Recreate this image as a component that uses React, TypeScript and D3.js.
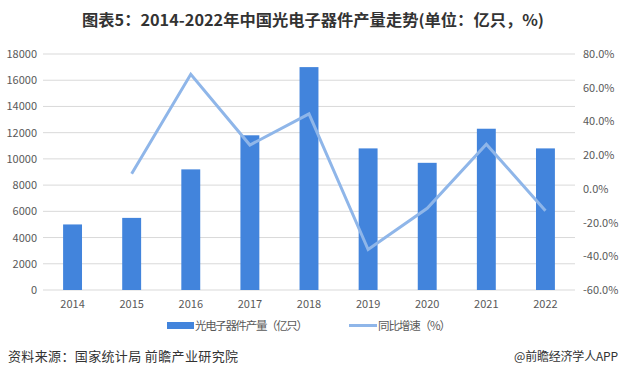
import React, { useEffect, useRef } from 'react';
import * as d3 from 'd3';

const years = ['2014', '2015', '2016', '2017', '2018', '2019', '2020', '2021', '2022'];
const output = [5000, 5500, 9200, 11800, 17000, 10800, 9700, 12300, 10800];
const growth: (number | null)[] = [null, 9.0, 68.0, 26.0, 44.5, -36.0, -11.5, 26.5, -13.0];
const leftTicks = [0, 2000, 4000, 6000, 8000, 10000, 12000, 14000, 16000, 18000];
const rightTicks = [-60, -40, -20, 0, 20, 40, 60, 80];

const FONT = '"Noto Sans CJK SC", "Noto Sans", sans-serif';

export default function App() {
  const ref = useRef<SVGSVGElement>(null);

  useEffect(() => {
    if (!ref.current) return;
    const svg = d3.select(ref.current);
    svg.selectAll('*').remove();

    const W = 622, H = 384;
    const left = 43, right = 575, top = 54, bottom = 290;

    svg.append('rect').attr('width', W).attr('height', H).attr('fill', '#fff');

    // title
    svg.append('text')
      .attr('x', 82).attr('y', 26)
      .attr('font-family', FONT).attr('font-weight', 'bold')
      .attr('font-size', 15.5).attr('fill', '#333')
      .attr('textLength', 462).attr('lengthAdjust', 'spacingAndGlyphs')
      .text('图表5：2014-2022年中国光电子器件产量走势(单位：亿只，%)');

    const x = d3.scaleBand().domain(years).range([left, right]).paddingInner(0.68).paddingOuter(0.34);
    const y = d3.scaleLinear().domain([0, 18000]).range([bottom, top]);
    const y2 = d3.scaleLinear().domain([-60, 80]).range([bottom, top]);

    // grid
    svg.append('g').selectAll('line')
      .data(leftTicks)
      .join('line')
      .attr('x1', left).attr('x2', right)
      .attr('y1', d => y(d)).attr('y2', d => y(d))
      .attr('stroke', '#d9d9d9').attr('stroke-width', 1);

    // left axis
    svg.append('g').selectAll('text')
      .data(leftTicks)
      .join('text')
      .attr('x', 37).attr('y', d => y(d) + 4)
      .attr('text-anchor', 'end')
      .attr('font-family', FONT).attr('font-size', 11).attr('fill', '#595959')
      .text(d => String(d));

    // right axis
    svg.append('g').selectAll('text')
      .data(rightTicks)
      .join('text')
      .attr('x', 583).attr('y', d => y2(d) + 4)
      .attr('text-anchor', 'start')
      .attr('font-family', FONT).attr('font-size', 11).attr('fill', '#595959')
      .text(d => d.toFixed(1) + '%');

    // x labels
    svg.append('g').selectAll('text')
      .data(years)
      .join('text')
      .attr('x', d => x(d)! + x.bandwidth() / 2).attr('y', 308)
      .attr('text-anchor', 'middle')
      .attr('font-family', FONT).attr('font-size', 11).attr('fill', '#595959')
      .text(d => d);

    // bars
    svg.append('g').selectAll('rect')
      .data(years)
      .join('rect')
      .attr('x', d => x(d)!)
      .attr('width', x.bandwidth())
      .attr('y', (d, i) => y(output[i]))
      .attr('height', (d, i) => bottom - y(output[i]))
      .attr('fill', '#4284dc');

    // growth line
    const pts = years.map((yr, i) => ({ yr, v: growth[i] })).filter(p => p.v !== null) as { yr: string; v: number }[];
    const line = d3.line<{ yr: string; v: number }>()
      .x(d => x(d.yr)! + x.bandwidth() / 2)
      .y(d => y2(d.v));
    svg.append('path')
      .datum(pts)
      .attr('d', line)
      .attr('fill', 'none')
      .attr('stroke', '#8fb6e9')
      .attr('stroke-width', 3)
      .attr('stroke-linejoin', 'miter');

    // legend
    const lg = svg.append('g').attr('font-family', FONT).attr('font-size', 11.5).attr('fill', '#595959');
    lg.append('rect').attr('x', 167).attr('y', 322).attr('width', 27).attr('height', 7).attr('fill', '#4284dc');
    lg.append('text').attr('x', 195).attr('y', 330).attr('textLength', 113).text('光电子器件产量（亿只）');
    lg.append('line').attr('x1', 349).attr('x2', 377).attr('y1', 325.5).attr('y2', 325.5)
      .attr('stroke', '#8fb6e9').attr('stroke-width', 3);
    lg.append('text').attr('x', 378).attr('y', 330).attr('textLength', 73).text('同比增速（%）');

    // footer
    const ft = svg.append('g').attr('font-family', FONT).attr('fill', '#333');
    ft.append('text').attr('x', 8).attr('y', 361).attr('font-size', 13).attr('textLength', 230)
      .text('资料来源：国家统计局 前瞻产业研究院');
    ft.append('text').attr('x', 514).attr('y', 361).attr('font-size', 12).attr('textLength', 104)
      .text('@前瞻经济学人APP');
  }, []);

  return (
    <div style={{ position: 'absolute', left: 0, top: 0 }}>
      <svg ref={ref} width={622} height={384} style={{ display: 'block' }} />
    </div>
  );
}
